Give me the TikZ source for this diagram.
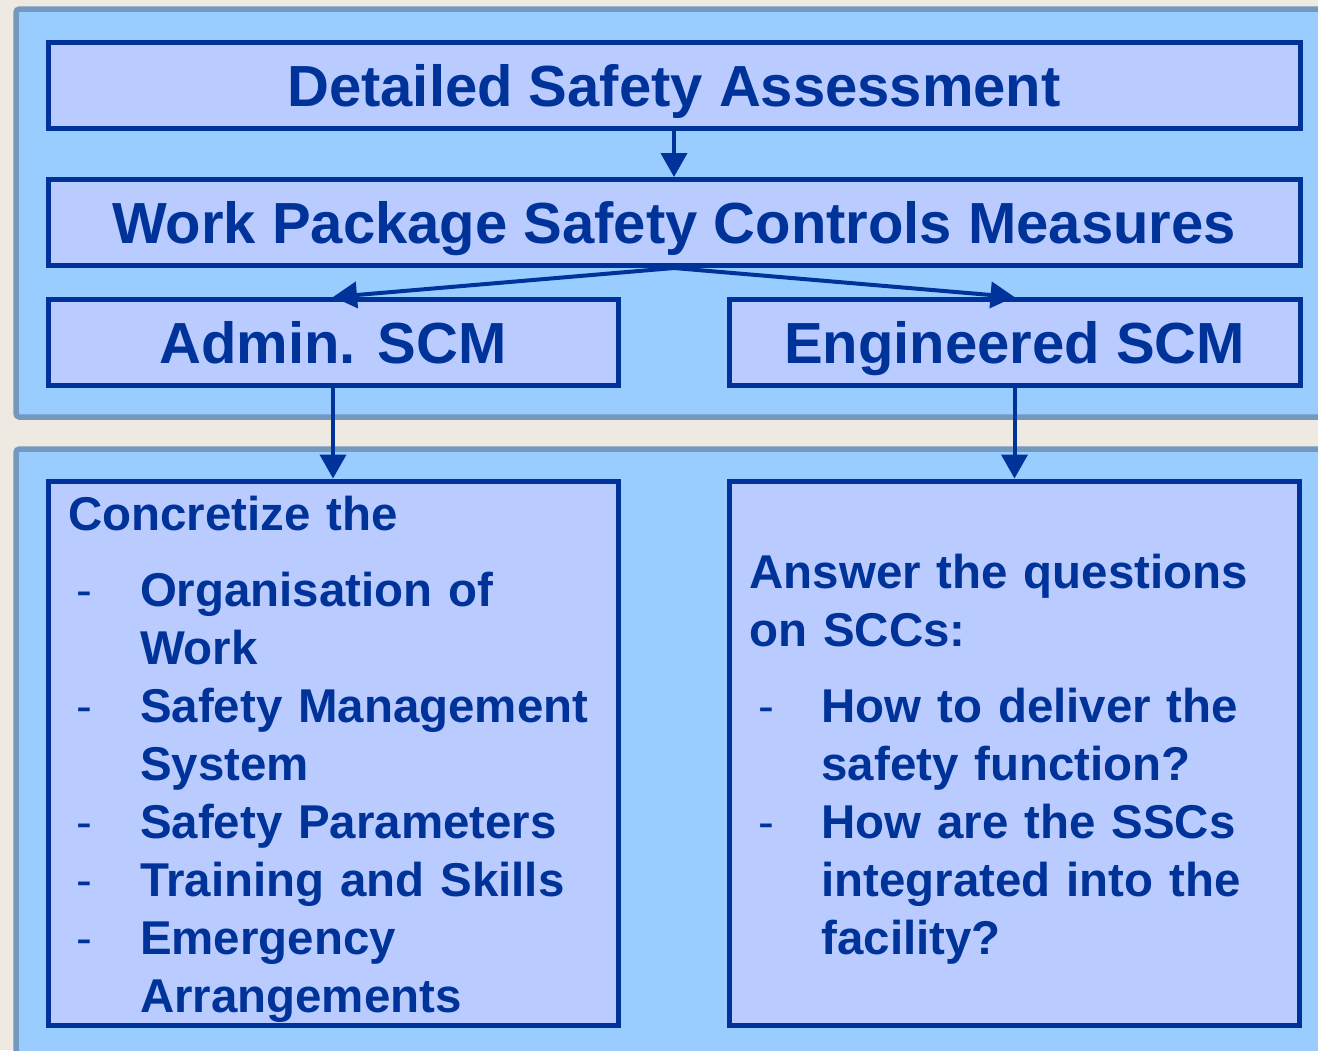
\documentclass[tikz,border=0pt]{standalone}
\usepackage{fontspec}
\setmainfont{Liberation Sans}
\usetikzlibrary{arrows.meta}
\definecolor{bgbeige}{HTML}{EEEAE2}
\definecolor{pnlfill}{HTML}{99CCFF}
\definecolor{pnlline}{HTML}{7399BF}
\definecolor{boxfill}{HTML}{BACCFF}
\definecolor{navy}{HTML}{003399}
\newcommand{\lstdash}{\makebox[1.44cm][l]{\hspace{0.17cm}\mdseries-}}
\newcommand{\lstind}{\hspace*{1.44cm}}
\newcommand{\lsttop}{\rule{0pt}{0.95cm}}
\tikzset{
  pnl/.style={draw=pnlline,fill=pnlfill,line width=0.11cm,rounded corners=2pt},
  box/.style={draw=navy,fill=boxfill,line width=0.1cm,text=navy,inner sep=0pt},
  hdr/.style={box,font=\fontsize{33}{40}\selectfont\bfseries,text depth=0pt,
              minimum height=1.72cm},
  lst/.style={box,font=\fontsize{27}{33}\selectfont\bfseries,align=left,
              text width=10.6cm,minimum height=10.88cm,inner xsep=0.4cm},
  ar/.style ={-{Triangle[length=0.48cm,width=0.52cm]},line width=0.08cm,draw=navy},
}
\begin{document}
\begin{tikzpicture}
  \useasboundingbox (0,0) rectangle (26.36,-21);
  \clip (0,0) rectangle (26.36,-21);
  \fill[bgbeige] (0,0) rectangle (26.36,-21);
  \draw[pnl] (0.32,-0.18) rectangle (27,-8.34);
  \draw[pnl] (0.32,-8.98) rectangle (27,-21.5);

  \node[hdr,minimum width=25.04cm] (dsa) at (13.48,-1.71){Detailed Safety Assessment};
  \node[hdr,minimum width=25.04cm] (wpscm) at (13.48,-4.45){Work Package Safety Controls Measures};
  \node[hdr,minimum width=11.4cm] (admin) at (6.66,-6.85){Admin. SCM};
  \node[hdr,minimum width=11.42cm] (eng) at (20.29,-6.85){Engineered SCM};

  \node[lst] (adminlst) at (6.66,-15.06){\lsttop Concretize the\\[0.36cm]
    \lstdash Organisation of\\
    \lstind Work\\
    \lstdash Safety Management\\
    \lstind System\\
    \lstdash Safety Parameters\\
    \lstdash Training and Skills\\
    \lstdash Emergency\\
    \lstind Arrangements};
  \node[lst] (englst) at (20.29,-15.06){\lsttop Answer the questions\\
    on SCCs:\\[0.36cm]
    \lstdash How to deliver the\\
    \lstind safety function?\\
    \lstdash How are the SSCs\\
    \lstind integrated into the\\
    \lstind facility?};

  \draw[ar] (dsa.south)--(wpscm.north);
  \draw[ar] (wpscm.south)--(admin.north);
  \draw[ar] (wpscm.south)--(eng.north);
  \draw[ar] (admin.south)--(adminlst.north);
  \draw[ar] (eng.south)--(englst.north);
\end{tikzpicture}
\end{document}
